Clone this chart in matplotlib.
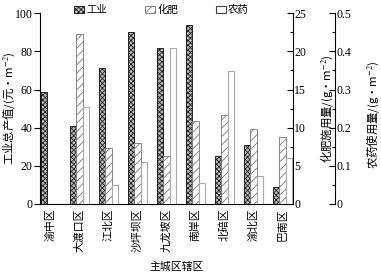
import matplotlib.pyplot as plt
import matplotlib.ticker as mticker
from matplotlib.patches import Patch
import numpy as np

plt.rcParams['font.family'] = ['Liberation Serif', 'Noto Sans CJK SC']
plt.rcParams['mathtext.fontset'] = 'stix'
plt.rcParams['hatch.linewidth'] = 0.6

districts = ['渝中区', '大渡口区', '江北区', '沙坪坝区', '九龙坡区',
             '南岸区', '北碚区', '渝北区', '巴南区']
industry = [58.6, 40.8, 71.2, 90.0, 81.7, 93.7, 25.1, 30.9, 8.9]       # 元/m2
fertilizer = [0, 22.25, 7.3, 8.0, 6.3, 10.9, 11.65, 9.8, 8.8]          # g/m2
pesticide = [0, 0.254, 0.05, 0.11, 0.408, 0.055, 0.348, 0.073, 0.12]   # g/m2

FS = 7.5
LFS = 8.2
W = 0.224
x = np.arange(len(districts))
CJK = ['Noto Sans CJK SC']

fig = plt.figure(figsize=(3.81, 2.76), dpi=100)
ax = fig.add_axes([0.105, 0.261, 0.664, 0.691])
ax2 = ax.twinx()
ax3 = ax.twinx()
ax3.spines['right'].set_position(('axes', 1.166))

ax.bar(x - W, industry, W, color='#bbbbbb', edgecolor='#222222',
       hatch='xxxxxxx', linewidth=0.7)
ax2.bar(x, fertilizer, W, color='white', edgecolor='#777777',
        hatch='////', linewidth=0.6)
ax3.bar(x + W, pesticide, W, color='white', edgecolor='#aaaaaa',
        linewidth=0.8)

ax.set_xlim(-0.37, 8.37)
ax.set_ylim(0, 100)
ax2.set_ylim(0, 25)
ax3.set_ylim(0, 0.5)

for a in (ax, ax2, ax3):
    a.spines['top'].set_visible(False)
ax.spines['right'].set_visible(False)
for a in (ax2, ax3):
    a.spines['left'].set_visible(False)
    a.spines['bottom'].set_visible(False)

ax.set_xticks(x)
ax.set_xticklabels(districts, rotation=90, fontsize=7.8, family=CJK)
ax.tick_params(axis='x', length=0, pad=3)
ax.set_yticks(np.arange(0, 101, 20))
ax.tick_params(axis='y', direction='out', length=4, width=0.8,
               labelsize=FS + 1, pad=1.5)

ax2.set_yticks(np.arange(0, 26, 5))
ax2.yaxis.set_minor_locator(mticker.MultipleLocator(2.5))
ax3.set_yticks(np.arange(0, 0.51, 0.1))
ax3.yaxis.set_minor_locator(mticker.MultipleLocator(0.05))
for a in (ax2, ax3):
    a.tick_params(axis='y', which='major', direction='in', length=4,
                  width=0.8, labelsize=FS + 1, pad=1)
    a.tick_params(axis='y', which='minor', direction='in', length=2,
                  width=0.8)
ax2.yaxis.set_major_formatter(mticker.FormatStrFormatter('%d'))
ax3.yaxis.set_major_formatter(mticker.FuncFormatter(
    lambda v, p: '0' if v == 0 else f'{v:.1f}'))

for a in (ax, ax2, ax3):
    for s in a.spines.values():
        s.set_linewidth(0.8)

ax.set_ylabel('工业总产值/(元·m$^{-2}$)', fontsize=LFS, family=CJK)
ax.yaxis.set_label_coords(-0.09, 0.5)
ax2.set_ylabel('化肥施用量/(g·m$^{-2}$)', fontsize=LFS, family=CJK,
               labelpad=2)
ax2.yaxis.set_label_coords(1.1, 0.5)
ax3.set_ylabel('农药使用量/(g·m$^{-2}$)', fontsize=LFS, family=CJK,
               labelpad=2)
ax3.yaxis.set_label_coords(1.28, 0.47)
ax.set_xlabel('主城区辖区', fontsize=7.8, family=CJK)
ax.xaxis.set_label_coords(0.54, -0.3)

handles = [
    Patch(facecolor='#bbbbbb', edgecolor='#222222', hatch='xxxxxxx', lw=0.7),
    Patch(facecolor='white', edgecolor='#777777', hatch='////', lw=0.6),
    Patch(facecolor='white', edgecolor='#444444', lw=0.8),
]
ax.legend(handles, ['工业', '化肥', '农药'], loc='center',
          bbox_to_anchor=(0.48, 1.016), ncol=3, frameon=False,
          prop={'family': CJK, 'size': FS},
          handlelength=1.0, handleheight=0.7, handletextpad=0.2,
          columnspacing=3.6, borderpad=0)

fig.savefig('out.png', dpi=100)
